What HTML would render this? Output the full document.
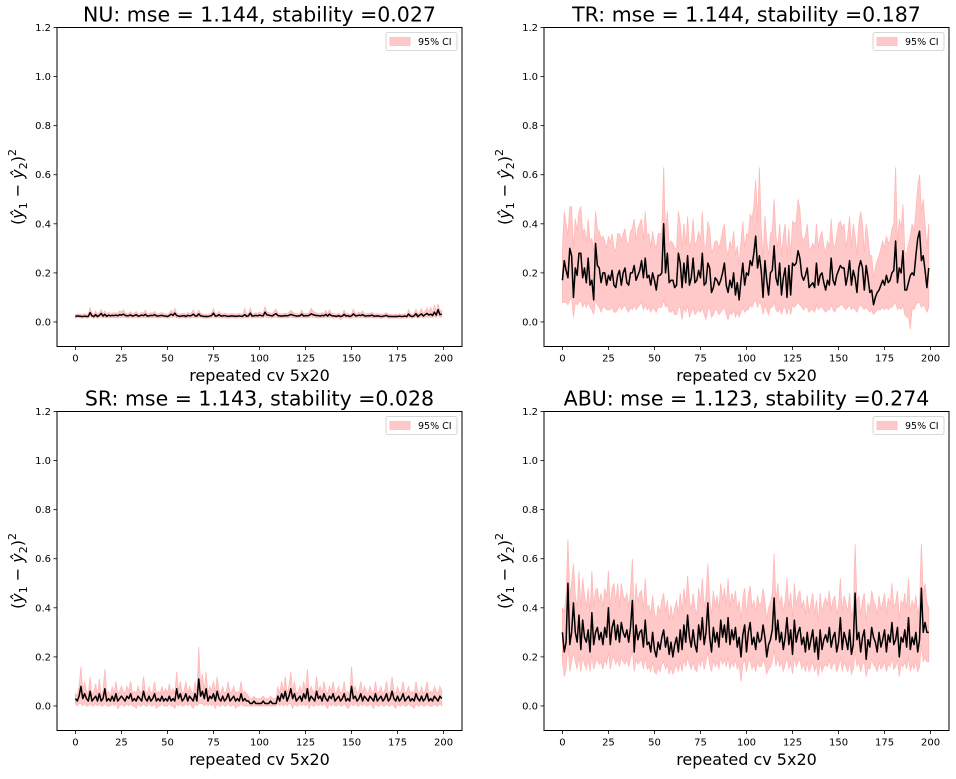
<!DOCTYPE html>
<html><head><meta charset="utf-8"><style>
body{margin:0;background:#fff;font-family:"Liberation Sans","DejaVu Sans",sans-serif}
svg text{font-family:"DejaVu Sans","Liberation Sans",sans-serif}
</style></head><body>
<svg id="fig" width="956" height="774" xmlns="http://www.w3.org/2000/svg"></svg>
<script>
const xTicks=[0,25,50,75,100,125,150,175,200];
const yTicks=[0.0,0.2,0.4,0.6,0.8,1.0,1.2];
const titles=["NU: mse = 1.144, stability =0.027","TR: mse = 1.144, stability =0.187","SR: mse = 1.143, stability =0.028","ABU: mse = 1.123, stability =0.274"];
const nuMean=[.022,.025,.024,.023,.022,.024,.022,.023,.038,.025,.022,.030,.022,.027,.035,.024,.031,.023,.028,.025,
.027,.026,.028,.025,.030,.028,.032,.027,.025,.026,.029,.024,.026,.030,.024,.025,.028,.026,.031,.024,
.025,.027,.026,.030,.025,.024,.026,.027,.025,.024,.022,.026,.032,.027,.036,.026,.024,.023,.025,.026,
.022,.027,.025,.026,.032,.025,.024,.033,.025,.024,.022,.023,.022,.024,.026,.036,.024,.025,.030,.024,
.025,.026,.024,.023,.024,.025,.024,.023,.024,.025,.023,.024,.030,.023,.025,.036,.024,.025,.027,.025,
.028,.026,.025,.040,.029,.028,.026,.025,.030,.034,.026,.025,.024,.025,.026,.025,.027,.031,.028,.026,
.024,.025,.025,.032,.024,.026,.025,.027,.033,.030,.028,.026,.026,.024,.027,.025,.031,.024,.032,.026,
.025,.024,.023,.026,.022,.024,.031,.024,.026,.022,.025,.033,.026,.025,.028,.026,.030,.025,.024,.026,
.025,.028,.024,.024,.025,.024,.022,.023,.025,.027,.022,.023,.022,.022,.023,.022,.024,.022,.023,.024,
.022,.032,.024,.022,.025,.034,.022,.028,.033,.024,.030,.035,.028,.032,.026,.040,.028,.050,.030,.032];
const nuHi=[.030,.032,.033,.032,.030,.034,.030,.032,.058,.035,.030,.045,.030,.038,.050,.033,.045,.031,.040,.034,
.037,.036,.038,.035,.045,.040,.050,.037,.034,.036,.041,.033,.036,.043,.033,.034,.039,.036,.048,.033,
.034,.038,.036,.043,.035,.033,.036,.038,.034,.033,.030,.036,.048,.038,.055,.036,.033,.032,.034,.036,
.030,.038,.034,.036,.050,.034,.033,.048,.035,.033,.030,.032,.030,.033,.036,.055,.033,.034,.043,.033,
.034,.036,.033,.032,.033,.034,.033,.032,.033,.035,.032,.033,.055,.032,.034,.058,.033,.034,.038,.034,
.040,.036,.034,.062,.041,.039,.036,.034,.045,.052,.036,.034,.033,.034,.036,.034,.038,.048,.040,.036,
.033,.034,.034,.048,.033,.036,.034,.038,.055,.045,.040,.036,.036,.033,.038,.034,.047,.033,.050,.036,
.034,.033,.032,.036,.030,.033,.048,.033,.036,.030,.034,.052,.036,.034,.040,.036,.045,.034,.033,.036,
.034,.040,.033,.033,.034,.033,.030,.032,.034,.038,.030,.032,.030,.030,.032,.030,.033,.030,.032,.033,
.030,.050,.033,.030,.034,.052,.030,.040,.055,.033,.045,.058,.040,.060,.036,.070,.040,.075,.045,.048];
const nuLo=[.016,.018,.017,.016,.015,.017,.015,.016,.024,.017,.015,.019,.015,.018,.021,.017,.019,.016,.018,.017,
.018,.017,.018,.017,.019,.018,.020,.018,.017,.017,.019,.016,.017,.019,.016,.017,.018,.017,.019,.016,
.017,.018,.017,.019,.017,.016,.017,.018,.017,.016,.015,.017,.020,.018,.022,.017,.016,.016,.017,.017,
.015,.018,.017,.017,.020,.017,.016,.020,.017,.016,.015,.016,.015,.016,.017,.022,.016,.017,.019,.016,
.017,.017,.016,.016,.016,.017,.016,.016,.016,.017,.016,.016,.019,.016,.017,.022,.016,.017,.018,.017,
.018,.017,.017,.024,.019,.018,.017,.017,.019,.021,.017,.017,.016,.017,.017,.017,.018,.020,.018,.017,
.016,.017,.017,.020,.016,.017,.017,.018,.021,.019,.018,.017,.017,.016,.018,.017,.020,.016,.020,.017,
.017,.016,.016,.017,.010,.016,.020,.016,.017,.015,.017,.021,.017,.017,.018,.017,.019,.017,.016,.017,
.017,.018,.016,.016,.017,.016,.015,.016,.017,.018,.015,.016,.015,.015,.016,.015,.016,.015,.016,.016,
.015,.020,.016,.015,.017,.021,.015,.018,.021,.016,.019,.022,.018,.020,.017,.024,.018,.028,.019,.020];
const trMean=[.17,.25,.21,.18,.30,.27,.10,.22,.19,.28,.28,.18,.22,.16,.26,.15,.17,.09,.32,.23,
.22,.16,.20,.20,.15,.19,.17,.21,.15,.14,.19,.21,.15,.20,.22,.16,.15,.20,.20,.23,
.17,.19,.21,.25,.18,.26,.18,.19,.15,.20,.17,.13,.19,.19,.20,.40,.20,.28,.16,.17,
.17,.14,.15,.28,.24,.14,.24,.16,.27,.15,.18,.26,.16,.17,.21,.18,.28,.15,.16,.24,
.22,.12,.14,.18,.17,.15,.17,.20,.24,.15,.12,.17,.14,.20,.11,.16,.09,.17,.24,.15,
.20,.19,.25,.23,.28,.35,.22,.27,.21,.10,.25,.17,.11,.20,.21,.31,.18,.15,.24,.11,
.18,.22,.10,.23,.11,.24,.23,.24,.29,.26,.19,.17,.19,.22,.14,.15,.16,.14,.24,.15,
.19,.20,.16,.13,.17,.15,.26,.17,.15,.19,.21,.23,.22,.22,.15,.19,.25,.15,.21,.18,
.12,.22,.25,.22,.13,.23,.18,.12,.13,.07,.10,.12,.13,.15,.17,.15,.19,.16,.17,.20,
.21,.33,.16,.22,.20,.29,.13,.13,.16,.19,.20,.19,.27,.34,.37,.25,.27,.21,.14,.22];
const trHi=[.30,.45,.40,.35,.47,.47,.30,.42,.37,.45,.47,.36,.38,.32,.42,.33,.34,.28,.45,.38,
.37,.34,.35,.33,.30,.35,.32,.36,.30,.29,.36,.36,.33,.36,.38,.32,.32,.37,.38,.42,
.33,.38,.40,.42,.33,.45,.35,.36,.30,.37,.32,.30,.36,.36,.36,.63,.36,.45,.31,.33,
.32,.30,.30,.45,.40,.30,.40,.31,.43,.30,.33,.42,.31,.33,.37,.33,.45,.31,.31,.41,
.38,.28,.30,.33,.33,.30,.33,.37,.40,.30,.27,.33,.30,.37,.27,.31,.23,.33,.41,.30,
.36,.35,.44,.42,.47,.58,.40,.63,.38,.26,.43,.33,.27,.36,.37,.50,.35,.30,.40,.27,
.35,.40,.26,.38,.27,.41,.40,.41,.50,.46,.35,.33,.35,.40,.30,.30,.32,.30,.40,.30,
.35,.37,.31,.28,.33,.30,.42,.32,.30,.35,.40,.41,.38,.40,.30,.35,.43,.30,.40,.35,
.27,.40,.45,.40,.28,.40,.35,.27,.27,.18,.22,.25,.27,.30,.33,.30,.35,.32,.33,.38,
.40,.63,.32,.42,.38,.48,.28,.28,.32,.35,.40,.37,.45,.55,.60,.45,.50,.40,.30,.40];
const trLo=[.08,.08,.08,.07,.09,.10,.02,.08,.07,.08,.09,.06,.08,.06,.08,.06,.05,.03,.09,.07,
.06,.04,.06,.06,.05,.05,.05,.06,.04,.04,.05,.07,.05,.06,.07,.05,.04,.06,.05,.07,
.05,.06,.07,.08,.05,.07,.05,.06,.04,.06,.05,.04,.06,.06,.06,.09,.06,.07,.04,.04,
.05,.03,.03,.06,.06,.01,.06,.04,.07,.02,.04,.06,.03,.04,.05,.04,.06,.03,.01,.05,
.06,.02,.03,.05,.05,.03,.04,.05,.06,.03,.01,.04,.03,.05,.02,.04,.02,.04,.06,.04,
.05,.05,.07,.06,.08,.09,.06,.08,.07,.03,.07,.05,.03,.06,.06,.08,.05,.04,.06,.03,
.06,.06,.03,.07,.03,.07,.06,.07,.08,.07,.06,.05,.06,.06,.04,.05,.05,.04,.07,.05,
.06,.06,.05,.04,.05,.05,.07,.05,.04,.06,.06,.07,.07,.06,.05,.06,.07,.05,.06,.05,
.04,.06,.07,.06,.05,.06,.05,.04,.05,.03,.04,.05,.05,.05,.06,.05,.06,.05,.06,.06,
.07,.08,.05,.06,.05,.07,.03,.02,.02,-.03,.06,.05,.07,.08,.08,.06,.07,.06,.04,.06];
const srMean=[.03,.02,.04,.08,.03,.05,.03,.02,.06,.02,.03,.04,.02,.05,.02,.03,.07,.02,.03,.02,
.04,.02,.05,.02,.03,.04,.03,.02,.04,.03,.05,.02,.03,.02,.04,.03,.02,.06,.03,.02,
.04,.02,.03,.05,.02,.03,.02,.04,.02,.03,.02,.04,.02,.03,.02,.07,.03,.05,.02,.03,
.05,.02,.04,.03,.02,.05,.02,.11,.04,.06,.03,.07,.02,.04,.03,.05,.02,.06,.03,.02,
.04,.02,.03,.05,.02,.03,.04,.02,.03,.02,.05,.02,.03,.02,.02,.01,.01,.02,.01,.01,
.01,.01,.02,.01,.01,.01,.02,.01,.01,.01,.04,.02,.05,.03,.06,.02,.04,.07,.03,.05,
.02,.03,.04,.02,.05,.03,.07,.02,.04,.03,.02,.06,.03,.04,.02,.05,.03,.02,.04,.03,
.05,.02,.03,.04,.02,.03,.05,.02,.03,.02,.08,.03,.04,.02,.03,.05,.02,.04,.03,.02,
.04,.03,.02,.05,.02,.03,.04,.02,.03,.05,.02,.03,.06,.03,.02,.04,.02,.03,.05,.02,
.03,.04,.02,.03,.02,.05,.03,.02,.04,.02,.03,.05,.02,.03,.02,.04,.03,.02,.04,.03];
const srHi=[.05,.04,.08,.16,.06,.10,.06,.05,.12,.04,.06,.09,.04,.11,.04,.06,.15,.05,.06,.04,
.08,.05,.10,.05,.06,.08,.06,.05,.08,.06,.10,.05,.06,.05,.08,.06,.05,.12,.06,.05,
.08,.05,.06,.10,.05,.06,.05,.08,.05,.07,.05,.09,.05,.07,.05,.14,.06,.10,.05,.06,
.10,.05,.08,.06,.05,.10,.05,.24,.08,.13,.06,.14,.05,.08,.06,.10,.05,.12,.06,.05,
.08,.05,.06,.10,.05,.06,.08,.05,.06,.05,.10,.05,.06,.05,.04,.03,.03,.04,.03,.03,
.03,.03,.04,.03,.03,.03,.04,.03,.03,.03,.08,.05,.10,.06,.12,.05,.08,.14,.06,.10,
.05,.06,.08,.05,.10,.06,.15,.05,.08,.06,.05,.12,.06,.08,.05,.10,.06,.05,.08,.06,
.10,.05,.06,.08,.05,.06,.10,.05,.06,.05,.16,.06,.08,.05,.06,.10,.05,.08,.06,.05,
.08,.06,.05,.10,.05,.06,.08,.05,.06,.10,.05,.06,.12,.06,.05,.08,.05,.06,.10,.05,
.06,.08,.05,.06,.05,.10,.06,.05,.08,.05,.06,.10,.05,.06,.05,.08,.06,.05,.08,.06];
const srLo=[.01,.00,.01,.01,.00,.01,.00,.00,.01,.00,.00,.01,.00,.01,.00,.00,.01,.00,.00,.00,
.01,.00,.01,-.01,.00,.01,.00,.00,.01,.00,.01,.00,.00,-.01,.01,.00,.00,.01,.00,.00,
.01,.00,.00,.01,-.01,.00,.00,.01,.00,.00,.00,.01,.00,.00,-.01,.01,.00,.01,.00,.00,
.01,.00,.01,.00,-.01,.01,.00,.01,.01,.01,.00,.01,.00,.01,.00,.01,-.01,.01,.00,.00,
.01,.00,.00,.01,.00,.00,.01,-.01,.00,.00,.01,.00,.00,.00,.00,.00,.00,.00,.00,.00,
.00,.00,.00,.00,.00,.00,.00,.00,.00,.00,.01,.00,.01,.00,.01,.00,.01,.01,-.01,.01,
.00,.00,.01,.00,.01,.00,.01,-.01,.01,.00,.00,.01,.00,.01,.00,.01,.00,-.01,.01,.00,
.01,.00,.00,.01,.00,.00,.01,.00,-.01,.00,.01,.00,.01,.00,.00,.01,.00,.01,.00,.00,
.01,.00,-.01,.01,.00,.00,.01,.00,.00,.01,.00,.00,.01,.00,-.01,.01,.00,.00,.01,.00,
.00,.01,.00,.00,-.01,.01,.00,.00,.01,.00,.00,.01,.00,.00,.00,.01,.00,.00,.01,.00];
const abuMean=[.30,.22,.26,.50,.25,.30,.42,.30,.26,.37,.23,.35,.28,.26,.31,.22,.38,.25,.30,.32,
.27,.30,.25,.32,.28,.40,.25,.32,.35,.27,.33,.26,.34,.30,.28,.31,.26,.32,.43,.22,
.33,.27,.30,.31,.24,.35,.25,.26,.22,.30,.23,.20,.26,.23,.28,.31,.24,.28,.21,.26,
.20,.25,.28,.22,.31,.23,.33,.26,.37,.28,.24,.31,.25,.22,.33,.27,.36,.25,.30,.42,
.28,.22,.32,.26,.30,.24,.35,.28,.33,.26,.36,.25,.31,.27,.32,.24,.28,.20,.29,.33,
.22,.30,.34,.25,.28,.23,.30,.26,.27,.33,.28,.20,.25,.27,.31,.44,.27,.35,.26,.30,
.23,.28,.36,.25,.31,.21,.35,.26,.30,.32,.25,.28,.22,.30,.23,.27,.31,.22,.28,.19,
.31,.23,.27,.29,.26,.32,.24,.28,.30,.22,.26,.36,.23,.30,.27,.23,.31,.21,.25,.46,
.27,.30,.22,.28,.31,.19,.27,.24,.32,.28,.26,.22,.30,.24,.27,.31,.22,.29,.26,.34,
.25,.27,.32,.20,.28,.26,.31,.24,.36,.23,.28,.25,.30,.22,.27,.48,.30,.34,.30,.30];
const abuHi=[.40,.38,.45,.68,.45,.50,.58,.45,.40,.55,.40,.52,.45,.40,.48,.38,.55,.40,.47,.48,
.42,.46,.40,.48,.44,.55,.40,.48,.50,.42,.50,.40,.50,.45,.43,.46,.40,.47,.60,.38,
.50,.42,.46,.47,.39,.52,.40,.41,.37,.45,.38,.35,.41,.38,.43,.46,.38,.43,.35,.41,
.35,.40,.43,.37,.46,.38,.48,.41,.53,.43,.39,.46,.40,.37,.48,.42,.52,.40,.45,.58,
.43,.37,.47,.41,.45,.39,.50,.43,.48,.41,.52,.40,.46,.42,.47,.39,.43,.35,.44,.48,
.37,.45,.49,.40,.43,.38,.45,.41,.42,.48,.43,.35,.40,.42,.46,.62,.42,.50,.41,.45,
.38,.43,.52,.40,.46,.36,.50,.41,.45,.47,.40,.43,.37,.45,.38,.42,.46,.37,.43,.34,
.46,.38,.42,.44,.41,.47,.39,.43,.45,.37,.41,.52,.38,.45,.42,.38,.46,.36,.40,.66,
.42,.45,.37,.43,.46,.34,.42,.39,.47,.43,.41,.37,.45,.39,.42,.46,.37,.44,.41,.50,
.40,.42,.47,.35,.43,.41,.46,.39,.52,.38,.43,.40,.45,.37,.42,.66,.45,.50,.42,.40];
const abuLo=[.18,.12,.15,.25,.14,.18,.22,.18,.15,.20,.14,.20,.17,.15,.19,.14,.21,.15,.18,.19,
.17,.18,.15,.19,.17,.22,.15,.19,.20,.17,.19,.16,.20,.18,.17,.19,.16,.19,.23,.14,
.19,.17,.18,.19,.15,.20,.15,.16,.14,.18,.14,.13,.16,.14,.17,.18,.15,.17,.13,.16,
.13,.15,.17,.14,.18,.14,.19,.16,.20,.17,.15,.18,.15,.14,.19,.16,.20,.15,.18,.22,
.17,.14,.19,.16,.18,.15,.20,.17,.19,.16,.20,.15,.18,.16,.19,.15,.17,.10,.17,.19,
.14,.18,.19,.15,.17,.14,.18,.16,.16,.19,.17,.13,.15,.16,.18,.23,.16,.20,.16,.18,
.14,.17,.20,.15,.18,.13,.20,.16,.18,.19,.15,.17,.14,.18,.14,.16,.18,.14,.17,.12,
.18,.14,.16,.17,.16,.19,.15,.17,.18,.14,.16,.20,.14,.18,.16,.14,.18,.13,.15,.22,
.16,.18,.14,.17,.18,.12,.16,.15,.19,.17,.16,.14,.18,.15,.16,.18,.14,.17,.16,.20,
.15,.16,.19,.12,.17,.16,.18,.15,.20,.14,.17,.15,.18,.14,.16,.25,.18,.20,.18,.18];

const NS="http://www.w3.org/2000/svg";
const svg=document.getElementById('fig');
function mk(tag,attrs,parent){const e=document.createElementNS(NS,tag);for(const k in attrs)e.setAttribute(k,attrs[k]);(parent||svg).appendChild(e);return e;}
const panels=[
 {key:'nu',L:57,T:27.5,mean:nuMean,lo:nuLo,hi:nuHi},
 {key:'tr',L:544,T:27.5,mean:trMean,lo:trLo,hi:trHi},
 {key:'sr',L:57,T:411.5,mean:srMean,lo:srLo,hi:srHi},
 {key:'abu',L:544,T:411.5,mean:abuMean,lo:abuLo,hi:abuHi}];
const W=405,H=319,XMIN=-10,XMAX=210,YMIN=-0.1,YMAX=1.2;
panels.forEach((p,pi)=>{
 const g=mk('g',{});
 
 
 const xs=v=>p.L+(v-XMIN)/(XMAX-XMIN)*W;
 const ys=v=>p.T+(YMAX-v)/(YMAX-YMIN)*H;
 // CI band
 let d='';
 p.hi.forEach((v,i)=>{d+=(i?'L':'M')+xs(i).toFixed(2)+','+ys(v).toFixed(2);});
 for(let i=p.lo.length-1;i>=0;i--)d+='L'+xs(i).toFixed(2)+','+ys(p.lo[i]).toFixed(2);
 const band=mk('path',{d:d+'Z',fill:'#ffc9c9',stroke:'#ffb8b8','stroke-width':0.8},g);
 
 
 let ld='';
 p.mean.forEach((v,i)=>{ld+=(i?'L':'M')+xs(i).toFixed(2)+','+ys(v).toFixed(2);});
 const line=mk('path',{d:ld,fill:'none',stroke:'#000','stroke-width':1.5,'stroke-linejoin':'round'},g);
 
 
 const fr=mk('rect',{x:p.L,y:p.T,width:W,height:H,fill:'none',stroke:'#000','stroke-width':1},g);
 
 
 xTicks.forEach(t=>{
  const x=xs(t);
  mk('line',{x1:x,x2:x,y1:p.T+H,y2:p.T+H+3.5,stroke:'#000','stroke-width':0.8},g);
  const tx=mk('text',{x:x,y:p.T+H+15,'font-size':10,'text-anchor':'middle',fill:'#000'},g);
  tx.textContent=t;
  
  
 });
 yTicks.forEach(t=>{
  const y=ys(t);
  mk('line',{x1:p.L-3.5,x2:p.L,y1:y,y2:y,stroke:'#000','stroke-width':0.8},g);
  const ty=mk('text',{x:p.L-6,y:y+3.5,'font-size':10,'text-anchor':'end',fill:'#000'},g);
  ty.textContent=t.toFixed(1);
  
  
 });
 const ti=mk('text',{x:p.L+W/2,y:p.T-6,'font-size':20.5,'text-anchor':'middle',fill:'#000'},g);
 ti.textContent=titles[pi];
 
 
 const xl=mk('text',{x:p.L+W/2,y:p.T+H+34.5,'font-size':16,'text-anchor':'middle',fill:'#000'},g);
 xl.textContent='repeated cv 5x20';
 
 
 const yl=mk('text',{transform:'translate('+(p.L-34)+','+(p.T+H/2)+') rotate(-90)','font-size':16,'text-anchor':'middle',fill:'#000','font-family':'DejaVu Serif, Liberation Serif, serif'},g);
 yl.innerHTML='(<tspan font-style="italic">ŷ</tspan><tspan font-size="11" dy="4">1</tspan><tspan dy="-4"> − </tspan><tspan font-style="italic">ŷ</tspan><tspan font-size="11" dy="4">2</tspan><tspan dy="-4">)</tspan><tspan font-size="11" dy="-7">2</tspan>';
 
 
 const lg=mk('g',{},g);
 
 
 mk('rect',{x:p.L+329,y:p.T+5,width:71,height:18,rx:2,fill:'#fff',stroke:'#ccc','stroke-width':0.8},lg);
 mk('rect',{x:p.L+333,y:p.T+10,width:20,height:8,fill:'#ffc9c9',stroke:'#ffb8b8','stroke-width':0.8},lg);
 const lt=mk('text',{x:p.L+361,y:p.T+17.5,'font-size':9.5,fill:'#000'},lg);
 lt.textContent='95% CI';
 
 
});
</script>
</body></html>
